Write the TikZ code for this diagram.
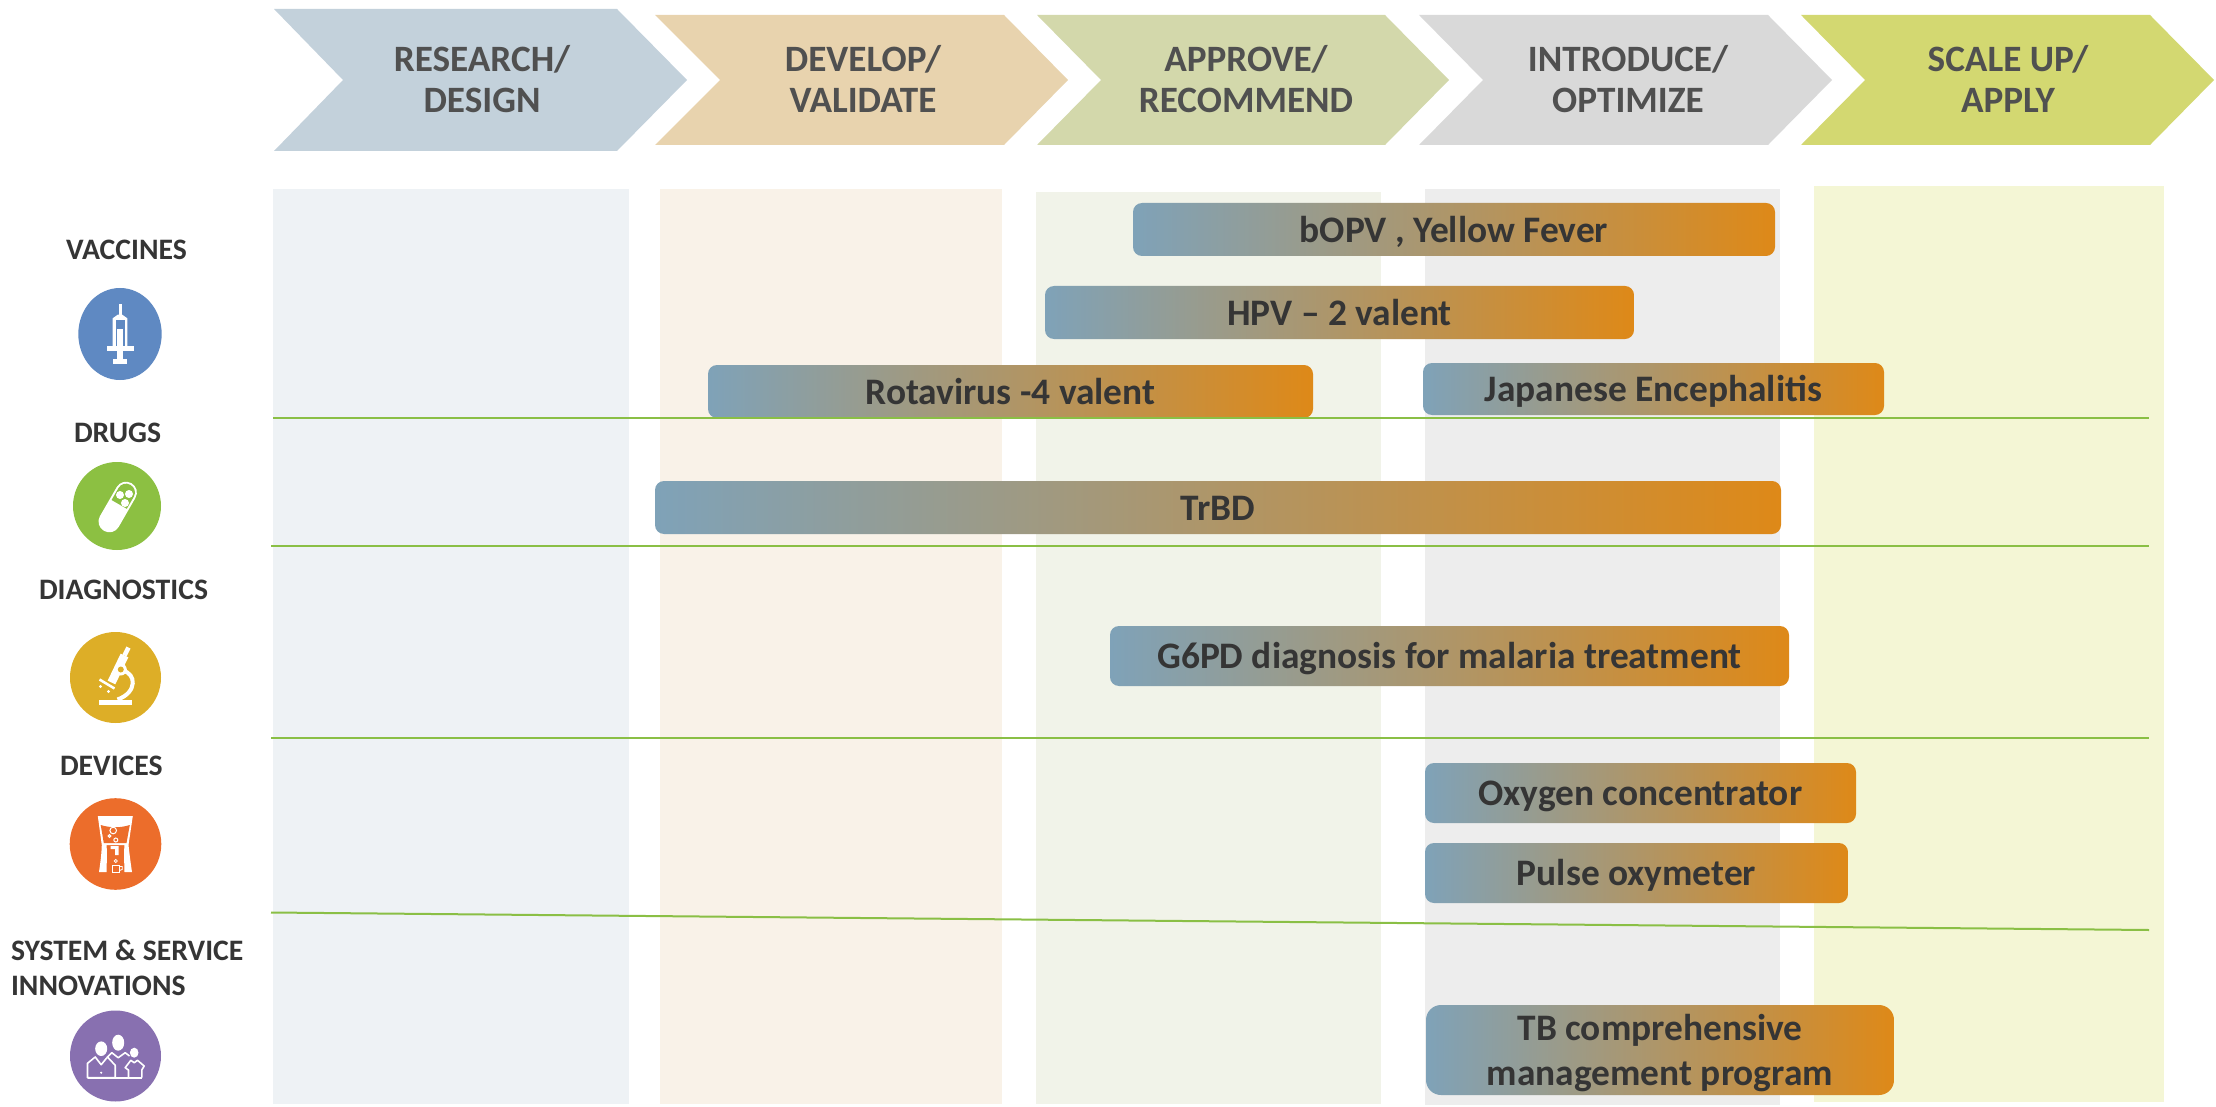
\documentclass[tikz,border=0pt]{standalone}
\usepackage{fontspec}
\setmainfont{Carlito}

\definecolor{inkdark}{HTML}{353535}
\definecolor{inkhead}{HTML}{505050}
\definecolor{barleft}{HTML}{7FA2B8}
\definecolor{barright}{HTML}{DE8918}
\definecolor{rulegreen}{HTML}{8ABF45}
\definecolor{dotblue}{HTML}{5F89C2}
\definecolor{dotgreen}{HTML}{8CC042}
\definecolor{dotyellow}{HTML}{DDAE27}
\definecolor{dotorange}{HTML}{EC6D2B}
\definecolor{dotpurple}{HTML}{8870B0}

\tikzset{
  headtext/.style={text=inkhead, align=center, font=\fontsize{37.2}{40.7}\selectfont\bfseries},
  rowtext/.style={text=inkdark, anchor=base west, font=\fontsize{29.7}{35}\selectfont\bfseries},
  barnode/.style={rectangle, rounded corners=9pt, inner sep=0pt, left color=barleft, right color=barright,
    text=inkdark, font=\fontsize{37.4}{45}\selectfont\bfseries, text height=25.5pt, text depth=0pt},
  rowrule/.style={draw=rulegreen, line width=2pt},
}

\begin{document}
\begin{tikzpicture}[x=1pt,y=-1pt]
  \useasboundingbox (0,0) rectangle (2216,1107);

  % chevrons
  \fill[fill={rgb,255:red,195;green,209;blue,219}] (274,9) -- (617,9) -- (687,80) -- (617,151) -- (274,151) -- (343,80) -- cycle;
  \fill[fill={rgb,255:red,232;green,211;blue,174}] (655,15) -- (1004,15) -- (1068,80) -- (1004,145) -- (655,145) -- (720,80) -- cycle;
  \fill[fill={rgb,255:red,211;green,216;blue,171}] (1037,15) -- (1385,15) -- (1449,80) -- (1385,145) -- (1037,145) -- (1101,80) -- cycle;
  \fill[fill={rgb,255:red,217;green,217;blue,217}] (1419,15) -- (1768,15) -- (1832,80) -- (1768,145) -- (1419,145) -- (1483,80) -- cycle;
  \fill[fill={rgb,255:red,211;green,216;blue,113}] (1801,15) -- (2150,15) -- (2214,80) -- (2150,145) -- (1801,145) -- (1865,80) -- cycle;

  \begin{scope}[every node/.style={headtext}]
    \node (research)  at (482,79)  {RESEARCH/\\DESIGN};
    \node (develop)   at (863,79)  {DEVELOP/\\VALIDATE};
    \node (approve)   at (1246,79) {APPROVE/\\RECOMMEND};
    \node (introduce) at (1628,79) {INTRODUCE/\\OPTIMIZE};
    \node (scaleup)   at (2008,79) {SCALE UP/\\APPLY};
  \end{scope}

  % columns
  \fill[fill={rgb,255:red,238;green,242;blue,245}] (273,189) rectangle (629,1104);
  \fill[fill={rgb,255:red,249;green,242;blue,232}] (660,189) rectangle (1002,1104);
  \fill[fill={rgb,255:red,241;green,243;blue,233}] (1036,192) rectangle (1381,1104);
  \fill[fill={rgb,255:red,237;green,237;blue,237}] (1425,189) rectangle (1780,1105);
  \fill[fill={rgb,255:red,244;green,246;blue,213}] (1814,186) rectangle (2164,1102);

  % bars
  \node[barnode, minimum width=642pt, minimum height=53pt] (bopv)     at (1454,229.5) {bOPV , Yellow Fever};
  \node[barnode, minimum width=589pt, minimum height=53pt] (hpv)      at (1339.5,312.5) {HPV – 2 valent};
  \node[barnode, minimum width=605pt, minimum height=53pt] (rota)     at (1010.5,391.5) {Rotavirus -4 valent};
  \node[barnode, minimum width=461pt, minimum height=52pt] (japanese) at (1653.5,389) {Japanese Encephalitis};
  \node[barnode, minimum width=1126pt, minimum height=53pt] (trbd)    at (1218,507.5) {TrBD};
  \node[barnode, minimum width=679pt, minimum height=60pt] (gsixpd)   at (1449.5,656) {G6PD diagnosis for malaria treatment};
  \node[barnode, minimum width=431pt, minimum height=60pt] (oxygen)   at (1640.5,793) {Oxygen concentrator};
  \node[barnode, minimum width=423pt, minimum height=60pt] (pulse)    at (1636.5,873) {Pulse oxymeter};
  \node[barnode, rounded corners=15pt, minimum width=468pt, minimum height=90pt] (tbprog) at (1660,1050) {};
  \node[text=inkdark, align=center, font=\fontsize{37.4}{45}\selectfont\bfseries] (tbtext) at (1660,1053) {TB comprehensive\\management program};

  % rules between rows
  \coordinate (ruleA) at (273,417.7);   \coordinate (ruleAe) at (2149,417.7);
  \coordinate (ruleB) at (271,545.7);   \coordinate (ruleBe) at (2149,545.7);
  \coordinate (ruleC) at (271,737.7);   \coordinate (ruleCe) at (2149,737.7);
  \coordinate (ruleD) at (271,912.5);   \coordinate (ruleDe) at (2149,930);
  \draw[rowrule] (ruleA) -- (ruleAe);
  \draw[rowrule] (ruleB) -- (ruleBe);
  \draw[rowrule] (ruleC) -- (ruleCe);
  \draw[rowrule] (ruleD) -- (ruleDe);

  % row labels
  \node[rowtext] (vaccines)    at (62.5,260)  {VACCINES};
  \node[rowtext] (drugs)       at (70.5,442.5)  {DRUGS};
  \node[rowtext] (diagnostics) at (35.5,599.5)  {DIAGNOSTICS};
  \node[rowtext] (devices)     at (56.5,775.5)  {DEVICES};
  \node[rowtext] (system)      at (7.5,960.5)   {SYSTEM \& SERVICE};
  \node[rowtext] (innovations) at (7.5,995.5)   {INNOVATIONS};

  % vaccines icon
  \begin{scope}[shift={(120,334)}]
    \fill[dotblue] (0,0) ellipse (41.7 and 46);
    \fill[white] (-1.5,-30) rectangle (1.5,-17);
    \fill[white] (-7.3,12) -- (-7.3,-15.7) -- (-2,-19.5) -- (2,-19.5) -- (7.3,-15.7) -- (7.3,12) -- cycle;
    \fill[dotblue] (-4.5,12) rectangle (4.5,-14);
    \fill[white] (-3.3,12) rectangle (3.3,-5);
    \fill[white] (-13.5,12) rectangle (13.5,16.7);
    \fill[white] (-2.7,16.7) rectangle (2.7,25);
    \fill[white] (-7.3,25) rectangle (7.3,30);
  \end{scope}

  % drugs icon
  \begin{scope}[shift={(117.7,507)}]
    \fill[dotgreen] (-0.7,-1) circle (44);
    \begin{scope}[rotate=-30]
      \fill[white, rounded corners=10.7pt] (-10.8,-27.5) rectangle (10.8,27.5);
      \fill[dotgreen] (-8.8,-3) [rounded corners=8.5pt] -- (-8.8,-25.5) -- (8.8,-25.5) [sharp corners] -- (8.8,-3) -- cycle;
    \end{scope}
    \fill[white] (2.3,-12) circle (4);
    \fill[white] (11.3,-13) circle (4);
    \fill[white] (7.3,-4) circle (4);
  \end{scope}

  % diagnostics icon
  \begin{scope}[shift={(115.5,677.5)}]
    \fill[dotyellow] (0,0) circle (45.5);
    \fill[white] (-16.3,22) rectangle (16.3,27.7);
    \draw[white, line width=4pt] (7,-7) .. controls (21,-4) and (22,15) .. (2,22);
    \draw[white, line width=4.5pt] (13,-30) -- (9,-22);
    \draw[white, line width=8.5pt] (9,-22) -- (-4,5);
    \draw[white, line width=2.5pt] (-16,2) -- (-1,11);
    \fill[white] (-15,9) circle (1.6);
    \fill[white] (-7,14) circle (1.6);
    \fill[white] (5.3,-8) circle (6);
    \fill[dotyellow] (5.3,-8) circle (3);
  \end{scope}

  % devices icon
  \begin{scope}[shift={(115.5,844)}]
    \fill[dotorange] (0,0) circle (45.8);
    \fill[white] (-17.7,-28) -- (17.3,-28) -- (13,1) -- (-13.7,1) -- cycle;
    \fill[dotorange] (-14.8,-19) .. controls (-5,-16) and (5,-16) .. (14.3,-19) -- (11,-1) -- (-11.7,-1) -- cycle;
    \draw[white, line width=1pt] (-2.3,-13.5) circle (3.3);
    \draw[white, line width=1pt] (0.3,-4) circle (2);
    \draw[white, line width=1pt] (-6,-8) circle (1.4);
    \fill[white] (-5,2) -- (3,2) -- (3,11) -- (-0.5,11) -- (-0.5,5) -- (-5,5) -- cycle;
    \fill[white] (-13.7,1) -- (-9,1) .. controls (-8,12) and (-9,20) .. (-9,28) -- (-16.5,28) .. controls (-15,18) and (-14,10) .. cycle;
    \fill[white] (13,1) -- (9,1) .. controls (8,12) and (9,20) .. (9,28) -- (16.5,28) .. controls (15,18) and (14,10) .. cycle;
    \draw[white, line width=.8pt] (0.3,17) circle (1.6);
    \draw[white, line width=.9pt] (-3.3,21) rectangle (4,28);
    \draw[white, line width=.9pt] (4,22.5) -- (6.7,22.5) -- (6.7,25.5) -- (4,26.5);
  \end{scope}

  % innovations icon
  \begin{scope}[shift={(115.5,1056)}]
    \fill[dotpurple] (0,0) circle (45.5);
    \draw[white, line width=1.6pt, line join=round] (-0.3,21.7) -- (-0.3,9.3) -- (-8,1) -- (-14.3,8.7) -- (-20.3,1) -- (-28,7.3) -- (-28,21.7) -- cycle;
    \draw[white, line width=1.6pt, line join=round] (-8,1) -- (-3.7,-3.3) -- (2.7,1.7) -- (9.7,-3.3) -- (14,0);
    \draw[white, line width=1.6pt, line join=round] (13,21.7) -- (13,14) -- (9.7,11.7) -- (15.3,4.3) -- (18.7,6.7) -- (22,4.3) -- (28.7,10) -- (26.3,14) -- (26.3,21.7);
    \draw[white, line width=2.4pt] (-28,21.7) -- (26.3,21.7);
    \fill[white] (-14.3,-7.3) ellipse (6 and 7.3);
    \fill[white] (2.7,-13.3) ellipse (6 and 8);
    \fill[white] (18.7,-3.3) ellipse (4.3 and 5);
    \fill[white] (-14.3,16.7) circle (1.2);
  \end{scope}

\end{tikzpicture}
\end{document}
